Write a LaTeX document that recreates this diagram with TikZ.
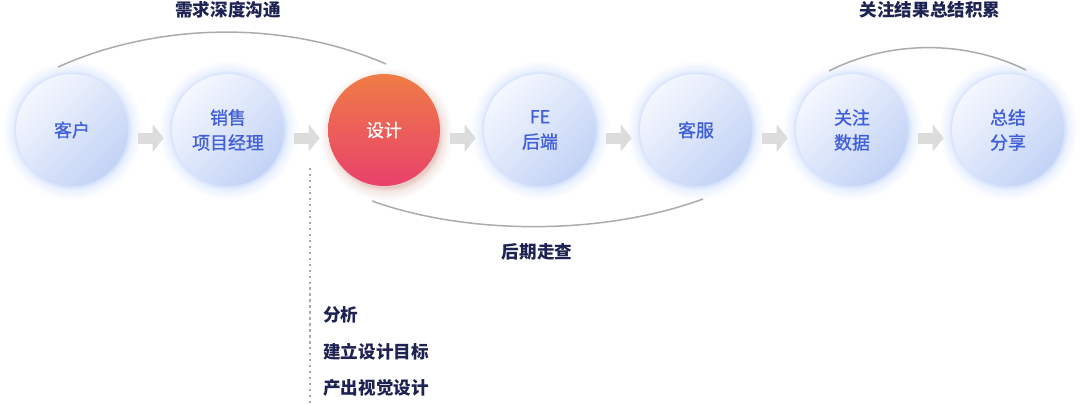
\documentclass[tikz,border=0pt]{standalone}
\usepackage{fontspec}
\usepackage{tikz}
\usetikzlibrary{arrows.meta,calc}
\newfontfamily\cjk{Noto Sans CJK SC}
\newfontfamily\cjkmid{Noto Sans CJK SC}[FakeBold=0.9]
\definecolor{navy}{HTML}{1D2352}
\definecolor{bluetxt}{HTML}{3F5EDB}
\definecolor{bluelite}{HTML}{F4F7FE}
\definecolor{bluedeep}{HTML}{C3D3F6}
\definecolor{haloblue}{HTML}{D3E0FD}
\definecolor{orangetop}{HTML}{EF7C45}
\definecolor{pinkbot}{HTML}{E9416C}
\definecolor{shadowred}{HTML}{E8CCC6}
\definecolor{arrowgray}{HTML}{DCDCDC}
\definecolor{arcgray}{HTML}{ABABAB}
\definecolor{dotgray}{HTML}{A8A8A8}
\pgfdeclareradialshading{bluehalo}{\pgfpoint{0cm}{0cm}}{color(0bp)=(haloblue); color(20bp)=(haloblue); color(21.5bp)=(haloblue!45!white); color(25bp)=(white); color(50bp)=(white)}
\pgfdeclareradialshading{redhalo}{\pgfpoint{0cm}{0cm}}{color(0bp)=(shadowred); color(20bp)=(shadowred); color(21.5bp)=(shadowred!45!white); color(25bp)=(white); color(50bp)=(white)}

\begin{document}
\begin{tikzpicture}[x=0.02cm, y=-0.02cm,
  bubble/.style={circle, minimum size=2.24cm, inner sep=0pt, align=center,
    top color=bluelite, bottom color=bluedeep, shading angle=45,
    text=bluetxt, font=\cjkmid\fontsize{10.2}{14.2}\selectfont},
  hotbubble/.style={bubble, top color=orangetop, bottom color=pinkbot, shading angle=0, text=white},
  title/.style={text=navy, font=\cjk\bfseries\fontsize{10}{12}\selectfont, inner sep=0pt},
  flow/.style={draw=arrowgray, line width=0.22cm, shorten <=0.2cm, shorten >=0.16cm,
    -{Triangle[length=0.22cm, width=0.54cm]}},
  arc/.style={draw=arcgray, line width=0.85pt}]
  \useasboundingbox (0,0) rectangle (1080,403);

  % glow behind the circles
  \foreach \x in {72,228,540,696,852,1008}
    \shade[shading=bluehalo] (\x,130) circle (1.4cm);
  \shade[shading=redhalo] (386,134) circle (1.34cm);

  % steps
  \foreach \x/\nm/\txt in {72/kehu/客户, 228/xiaoshou/{销售\\项目经理}, 540/fe/{FE\\后端},
      696/kefu/客服, 852/guanzhu/{关注\\数据}, 1008/zongjie/{总结\\分享}}
    \node[bubble] (\nm) at (\x,130) {\txt};
  \node[hotbubble] (sheji) at (384,130) {设计};

  % arrows between steps
  \foreach \a/\b in {kehu/xiaoshou, xiaoshou/sheji, sheji/fe, fe/kefu, kefu/guanzhu, guanzhu/zongjie}
    \draw[flow] ([yshift=-0.16cm]\a.east) -- ([yshift=-0.16cm]\b.west);

  % arcs
  \coordinate (a1) at (58,67);   \coordinate (a2) at (386,64);
  \coordinate (b1) at (372,201); \coordinate (b2) at (703,199);
  \coordinate (c1) at (829,71);  \coordinate (c2) at (1026,70);
  \draw[arc] (a1) .. controls (158,22) and (285,20) .. (a2);
  \draw[arc] (b1) .. controls (470,236) and (605,235) .. (b2);
  \draw[arc] (c1) .. controls (890,40) and (965,40) .. (c2);
  \node[title] (tA) at (228,10) {需求深度沟通};
  \node[title] (tB) at (537,252) {后期走查};
  \node[title] (tC) at (930,10) {关注结果总结积累};

  % design tasks
  \coordinate (d1) at (310,168); \coordinate (d2) at (310,403);
  \draw[dotgray, line width=1.3pt, dash pattern=on 1.3pt off 2.1pt] (d1) -- (d2);
  \node[title, anchor=west] (s1) at (323,315) {分析};
  \node[title, anchor=west] (s2) at (323,352) {建立设计目标};
  \node[title, anchor=west] (s3) at (323,388) {产出视觉设计};
\end{tikzpicture}
\end{document}
